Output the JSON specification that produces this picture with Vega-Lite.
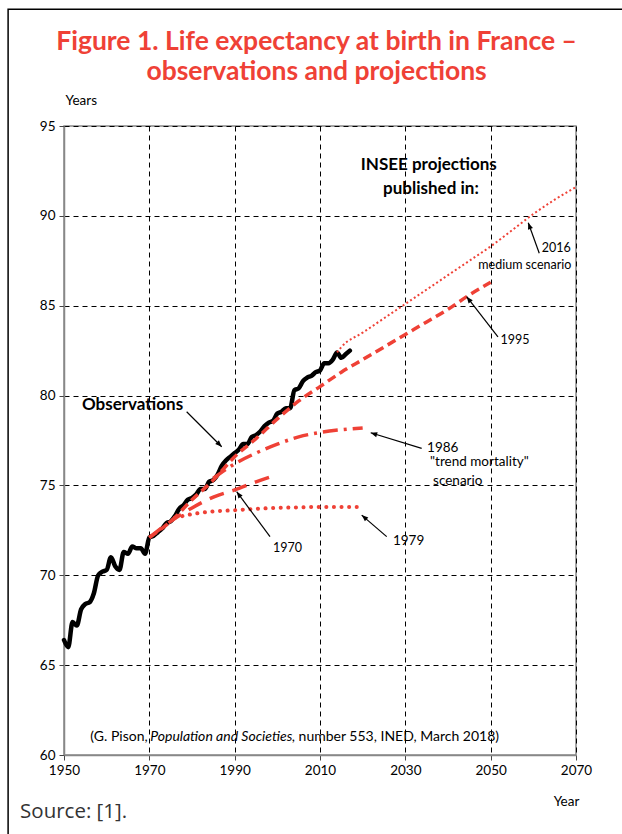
{
  "$schema": "https://vega.github.io/schema/vega-lite/v6.json",
  "width": 512,
  "height": 629,
  "autosize": {"type": "none"},
  "padding": {"left": 64, "top": 126, "right": 46, "bottom": 79},
  "background": "white",
  "config": {
    "view": {"stroke": "#888", "strokeWidth": 1.5},
    "font": "Lato",
    "axis": {
      "labelFont": "Lato",
      "labelFontSize": 13.5,
      "labelColor": "#000",
      "labelFlush": false,
      "tickColor": "#444",
      "tickSize": 5,
      "domainColor": "#888",
      "domainWidth": 1.5,
      "grid": true,
      "gridColor": "#000",
      "gridDash": [5, 4],
      "gridWidth": 1,
      "gridOpacity": 1,
      "titleFont": "Lato",
      "titleFontSize": 13.5,
      "titleFontWeight": "normal",
      "titleColor": "#000"
    }
  },
  "datasets": {
    "series": [
      {"s": "obs", "year": 1950, "le": 66.4}, {"s": "obs", "year": 1951, "le": 66.0}, {"s": "obs", "year": 1952, "le": 67.4}, {"s": "obs", "year": 1953, "le": 67.2},
      {"s": "obs", "year": 1954, "le": 68.1}, {"s": "obs", "year": 1955, "le": 68.4}, {"s": "obs", "year": 1956, "le": 68.5}, {"s": "obs", "year": 1957, "le": 69.0},
      {"s": "obs", "year": 1958, "le": 70.0}, {"s": "obs", "year": 1959, "le": 70.2}, {"s": "obs", "year": 1960, "le": 70.3}, {"s": "obs", "year": 1961, "le": 71.0},
      {"s": "obs", "year": 1962, "le": 70.5}, {"s": "obs", "year": 1963, "le": 70.3}, {"s": "obs", "year": 1964, "le": 71.3}, {"s": "obs", "year": 1965, "le": 71.2},
      {"s": "obs", "year": 1966, "le": 71.6}, {"s": "obs", "year": 1967, "le": 71.5}, {"s": "obs", "year": 1968, "le": 71.5}, {"s": "obs", "year": 1969, "le": 71.2},
      {"s": "obs", "year": 1970, "le": 72.1}, {"s": "obs", "year": 1971, "le": 72.2}, {"s": "obs", "year": 1972, "le": 72.4}, {"s": "obs", "year": 1973, "le": 72.6},
      {"s": "obs", "year": 1974, "le": 72.9}, {"s": "obs", "year": 1975, "le": 73.0}, {"s": "obs", "year": 1976, "le": 73.3}, {"s": "obs", "year": 1977, "le": 73.7},
      {"s": "obs", "year": 1978, "le": 73.9}, {"s": "obs", "year": 1979, "le": 74.2}, {"s": "obs", "year": 1980, "le": 74.3}, {"s": "obs", "year": 1981, "le": 74.5},
      {"s": "obs", "year": 1982, "le": 74.8}, {"s": "obs", "year": 1983, "le": 74.8}, {"s": "obs", "year": 1984, "le": 75.2}, {"s": "obs", "year": 1985, "le": 75.3},
      {"s": "obs", "year": 1986, "le": 75.6}, {"s": "obs", "year": 1987, "le": 76.1}, {"s": "obs", "year": 1988, "le": 76.4}, {"s": "obs", "year": 1989, "le": 76.6},
      {"s": "obs", "year": 1990, "le": 76.8}, {"s": "obs", "year": 1991, "le": 77.0}, {"s": "obs", "year": 1992, "le": 77.3}, {"s": "obs", "year": 1993, "le": 77.3},
      {"s": "obs", "year": 1994, "le": 77.7}, {"s": "obs", "year": 1995, "le": 77.8}, {"s": "obs", "year": 1996, "le": 78.0}, {"s": "obs", "year": 1997, "le": 78.3},
      {"s": "obs", "year": 1998, "le": 78.5}, {"s": "obs", "year": 1999, "le": 78.6}, {"s": "obs", "year": 2000, "le": 79.0}, {"s": "obs", "year": 2001, "le": 79.1},
      {"s": "obs", "year": 2002, "le": 79.3}, {"s": "obs", "year": 2003, "le": 79.3}, {"s": "obs", "year": 2004, "le": 80.3}, {"s": "obs", "year": 2005, "le": 80.4},
      {"s": "obs", "year": 2006, "le": 80.8}, {"s": "obs", "year": 2007, "le": 81.0}, {"s": "obs", "year": 2008, "le": 81.1}, {"s": "obs", "year": 2009, "le": 81.3},
      {"s": "obs", "year": 2010, "le": 81.4}, {"s": "obs", "year": 2011, "le": 81.8}, {"s": "obs", "year": 2012, "le": 81.8}, {"s": "obs", "year": 2013, "le": 82.0},
      {"s": "obs", "year": 2014, "le": 82.4}, {"s": "obs", "year": 2015, "le": 82.1}, {"s": "obs", "year": 2016, "le": 82.3}, {"s": "obs", "year": 2017, "le": 82.5},

      {"s": "p1970", "year": 1970, "le": 72.1}, {"s": "p1970", "year": 1975, "le": 73.0}, {"s": "p1970", "year": 1980, "le": 73.75}, {"s": "p1970", "year": 1985, "le": 74.35},
      {"s": "p1970", "year": 1990, "le": 74.75}, {"s": "p1970", "year": 1995, "le": 75.2}, {"s": "p1970", "year": 2000, "le": 75.6},

      {"s": "p1979", "year": 1976, "le": 73.2}, {"s": "p1979", "year": 1980, "le": 73.4}, {"s": "p1979", "year": 1985, "le": 73.55}, {"s": "p1979", "year": 1990, "le": 73.62},
      {"s": "p1979", "year": 1995, "le": 73.7}, {"s": "p1979", "year": 2000, "le": 73.75}, {"s": "p1979", "year": 2005, "le": 73.78}, {"s": "p1979", "year": 2010, "le": 73.8},
      {"s": "p1979", "year": 2015, "le": 73.8}, {"s": "p1979", "year": 2019, "le": 73.8},

      {"s": "p1986", "year": 1985, "le": 75.4}, {"s": "p1986", "year": 1990, "le": 76.2}, {"s": "p1986", "year": 1995, "le": 76.8}, {"s": "p1986", "year": 2000, "le": 77.3},
      {"s": "p1986", "year": 2005, "le": 77.7}, {"s": "p1986", "year": 2010, "le": 77.95}, {"s": "p1986", "year": 2015, "le": 78.1}, {"s": "p1986", "year": 2020, "le": 78.2},

      {"s": "p1995", "year": 1970, "le": 72.1}, {"s": "p1995", "year": 1975, "le": 73.0}, {"s": "p1995", "year": 1980, "le": 74.2}, {"s": "p1995", "year": 1985, "le": 75.3},
      {"s": "p1995", "year": 1990, "le": 76.6}, {"s": "p1995", "year": 1995, "le": 77.6}, {"s": "p1995", "year": 2000, "le": 78.7}, {"s": "p1995", "year": 2005, "le": 79.7},
      {"s": "p1995", "year": 2010, "le": 80.5}, {"s": "p1995", "year": 2015, "le": 81.3}, {"s": "p1995", "year": 2020, "le": 82.0}, {"s": "p1995", "year": 2025, "le": 82.7},
      {"s": "p1995", "year": 2030, "le": 83.4}, {"s": "p1995", "year": 2035, "le": 84.1}, {"s": "p1995", "year": 2040, "le": 84.8}, {"s": "p1995", "year": 2045, "le": 85.6},
      {"s": "p1995", "year": 2050, "le": 86.3},

      {"s": "p2016", "year": 2014, "le": 82.4}, {"s": "p2016", "year": 2015, "le": 82.7}, {"s": "p2016", "year": 2020, "le": 83.5}, {"s": "p2016", "year": 2025, "le": 84.3},
      {"s": "p2016", "year": 2030, "le": 85.1}, {"s": "p2016", "year": 2035, "le": 85.9}, {"s": "p2016", "year": 2040, "le": 86.7}, {"s": "p2016", "year": 2045, "le": 87.5},
      {"s": "p2016", "year": 2050, "le": 88.3}, {"s": "p2016", "year": 2055, "le": 89.2}, {"s": "p2016", "year": 2060, "le": 90.1}, {"s": "p2016", "year": 2065, "le": 90.9},
      {"s": "p2016", "year": 2070, "le": 91.6}
    ],
    "arrows": [
      {"year": 1978.75, "le": 79.10, "year2": 1986.96, "le2": 77.15, "dir": 135},
      {"year": 2061.39, "le": 87.92, "year2": 2058.81, "le2": 89.62, "dir": -19.8},
      {"year": 2051.71, "le": 83.26, "year2": 2044.38, "le2": 85.50, "dir": -37.8},
      {"year": 2033.83, "le": 77.06, "year2": 2021.88, "le2": 77.93, "dir": -73},
      {"year": 2025.63, "le": 72.15, "year2": 2019.77, "le2": 73.35, "dir": -49},
      {"year": 1998.28, "le": 72.15, "year2": 1990.47, "le2": 74.65, "dir": -36.5}
    ],
    "titleLines": [
      {"year": 2009.2, "le": 99.67, "t": "Figure 1. Life expectancy at birth in France –"},
      {"year": 2009.2, "le": 98.0, "t": "observations and projections"}
    ],
    "labelsCenter": [
      {"year": 2065.4, "le": 88.2, "t": "2016"},
      {"year": 2058.0, "le": 87.28, "t": "medium scenario"},
      {"year": 2055.7, "le": 83.09, "t": "1995"},
      {"year": 2002.4, "le": 71.52, "t": "1970"}
    ],
    "labelsLeft": [
      {"year": 2035.1, "le": 77.10, "t": "1986"},
      {"year": 2035.8, "le": 76.30, "t": "\"trend mortality\""},
      {"year": 2036.5, "le": 75.26, "t": "scenario"},
      {"year": 2027.1, "le": 71.92, "t": "1979"}
    ],
    "boldLeft": [
      {"year": 1954.2, "le": 79.47, "t": "Observations"}
    ],
    "boldCenter": [
      {"year": 2035.5, "le": 92.83, "t": "INSEE projections"},
      {"year": 2036.0, "le": 91.49, "t": "published in:"}
    ],
    "citeA": [{"year": 1969.6, "le": 61.0, "t": "(G. Pison,"}],
    "citeB": [{"year": 1970.2, "le": 61.0, "t": "Population and Societies"}],
    "citeC": [{"year": 2003.4, "le": 61.0, "t": ", number 553, INED, March 2018)"}],
    "source": [{"year": 1939.7, "le": 56.82, "t": "Source: [1]."}],
    "frame": [{"year": 1936.9, "le": 101.5, "year2": 2090, "le2": 53}]
  },
  "encoding": {
    "x": {
      "field": "year",
      "type": "quantitative",
      "scale": {"domain": [1950, 2070], "nice": false, "zero": false},
      "axis": {
        "values": [1950, 1970, 1990, 2010, 2030, 2050, 2070],
        "format": "d",
        "labelPadding": 3,
        "title": "Year",
        "titleX": 502,
        "titleY": 46,
        "titleAlign": "center",
        "titleBaseline": "middle"
      }
    },
    "y": {
      "field": "le",
      "type": "quantitative",
      "scale": {"domain": [60, 95], "nice": false, "zero": false},
      "axis": {
        "values": [60, 65, 70, 75, 80, 85, 90, 95],
        "labelPadding": 4,
        "title": "Years",
        "titleAngle": 0,
        "titleX": 1,
        "titleY": -26,
        "titleAlign": "left",
        "titleBaseline": "middle"
      }
    }
  },
  "layer": [
    {
      "data": {"name": "frame"},
      "mark": {"type": "rect", "fillOpacity": 0, "stroke": "#000", "strokeWidth": 1.5, "clip": false},
      "encoding": {"x2": {"field": "year2"}, "y2": {"field": "le2"}}
    },
    {
      "data": {"name": "titleLines"},
      "mark": {"type": "text", "align": "center", "baseline": "middle", "fontSize": 26.5, "fontWeight": "bold", "font": "Lato", "color": "#ef4136"},
      "encoding": {"text": {"field": "t"}}
    },
    {
      "data": {"name": "series"},
      "transform": [{"filter": "datum.s === 'obs'"}],
      "mark": {"type": "line", "color": "#000", "strokeWidth": 4.5, "interpolate": "monotone", "strokeCap": "round", "strokeJoin": "round"}
    },
    {
      "data": {"name": "series"},
      "transform": [{"filter": "datum.s === 'p1995'"}],
      "mark": {"type": "line", "color": "#ef4136", "strokeWidth": 3.5, "strokeDash": [9, 5], "interpolate": "monotone"}
    },
    {
      "data": {"name": "series"},
      "transform": [{"filter": "datum.s === 'p1970'"}],
      "mark": {"type": "line", "color": "#ef4136", "strokeWidth": 3.5, "strokeDash": [15, 9], "interpolate": "monotone"}
    },
    {
      "data": {"name": "series"},
      "transform": [{"filter": "datum.s === 'p1986'"}],
      "mark": {"type": "line", "color": "#ef4136", "strokeWidth": 3.5, "strokeDash": [15, 6, 3, 6], "interpolate": "monotone"}
    },
    {
      "data": {"name": "series"},
      "transform": [{"filter": "datum.s === 'p1979'"}],
      "mark": {"type": "line", "color": "#ef4136", "strokeWidth": 4, "strokeDash": [0.1, 7.5], "strokeCap": "round", "interpolate": "monotone"}
    },
    {
      "data": {"name": "series"},
      "transform": [{"filter": "datum.s === 'p2016'"}],
      "mark": {"type": "line", "color": "#ef4136", "strokeWidth": 2, "strokeDash": [2, 2.5], "interpolate": "monotone"}
    },
    {
      "data": {"name": "arrows"},
      "mark": {"type": "rule", "color": "#000", "strokeWidth": 1.2},
      "encoding": {"x2": {"field": "year2"}, "y2": {"field": "le2"}}
    },
    {
      "data": {"name": "arrows"},
      "mark": {"type": "point", "shape": "M0,0L-0.4,1L0.4,1Z", "filled": true, "color": "#000", "opacity": 1, "size": 170},
      "encoding": {
        "x": {"field": "year2", "type": "quantitative"},
        "y": {"field": "le2", "type": "quantitative"},
        "angle": {"field": "dir", "type": "quantitative", "scale": null}
      }
    },
    {
      "data": {"name": "labelsCenter"},
      "mark": {"type": "text", "align": "center", "baseline": "middle", "fontSize": 12.5, "font": "Lato", "color": "#000"},
      "encoding": {"text": {"field": "t"}}
    },
    {
      "data": {"name": "labelsLeft"},
      "mark": {"type": "text", "align": "left", "baseline": "middle", "fontSize": 13.5, "font": "Lato", "color": "#000"},
      "encoding": {"text": {"field": "t"}}
    },
    {
      "data": {"name": "boldLeft"},
      "mark": {"type": "text", "align": "left", "baseline": "middle", "fontSize": 17, "fontWeight": "bold", "font": "Lato", "color": "#000"},
      "encoding": {"text": {"field": "t"}}
    },
    {
      "data": {"name": "boldCenter"},
      "mark": {"type": "text", "align": "center", "baseline": "middle", "fontSize": 17, "fontWeight": "bold", "font": "Lato", "color": "#000"},
      "encoding": {"text": {"field": "t"}}
    },
    {
      "data": {"name": "citeA"},
      "mark": {"type": "text", "align": "right", "baseline": "middle", "fontSize": 14, "font": "Lato", "color": "#000"},
      "encoding": {"text": {"field": "t"}}
    },
    {
      "data": {"name": "citeB"},
      "mark": {"type": "text", "align": "left", "baseline": "middle", "fontSize": 14, "font": "Lato", "fontStyle": "italic", "color": "#000"},
      "encoding": {"text": {"field": "t"}}
    },
    {
      "data": {"name": "citeC"},
      "mark": {"type": "text", "align": "left", "baseline": "middle", "fontSize": 14, "font": "Lato", "color": "#000"},
      "encoding": {"text": {"field": "t"}}
    },
    {
      "data": {"name": "source"},
      "mark": {"type": "text", "align": "left", "baseline": "middle", "fontSize": 20.5, "font": "Open Sans", "color": "#333"},
      "encoding": {"text": {"field": "t"}}
    }
  ]
}
